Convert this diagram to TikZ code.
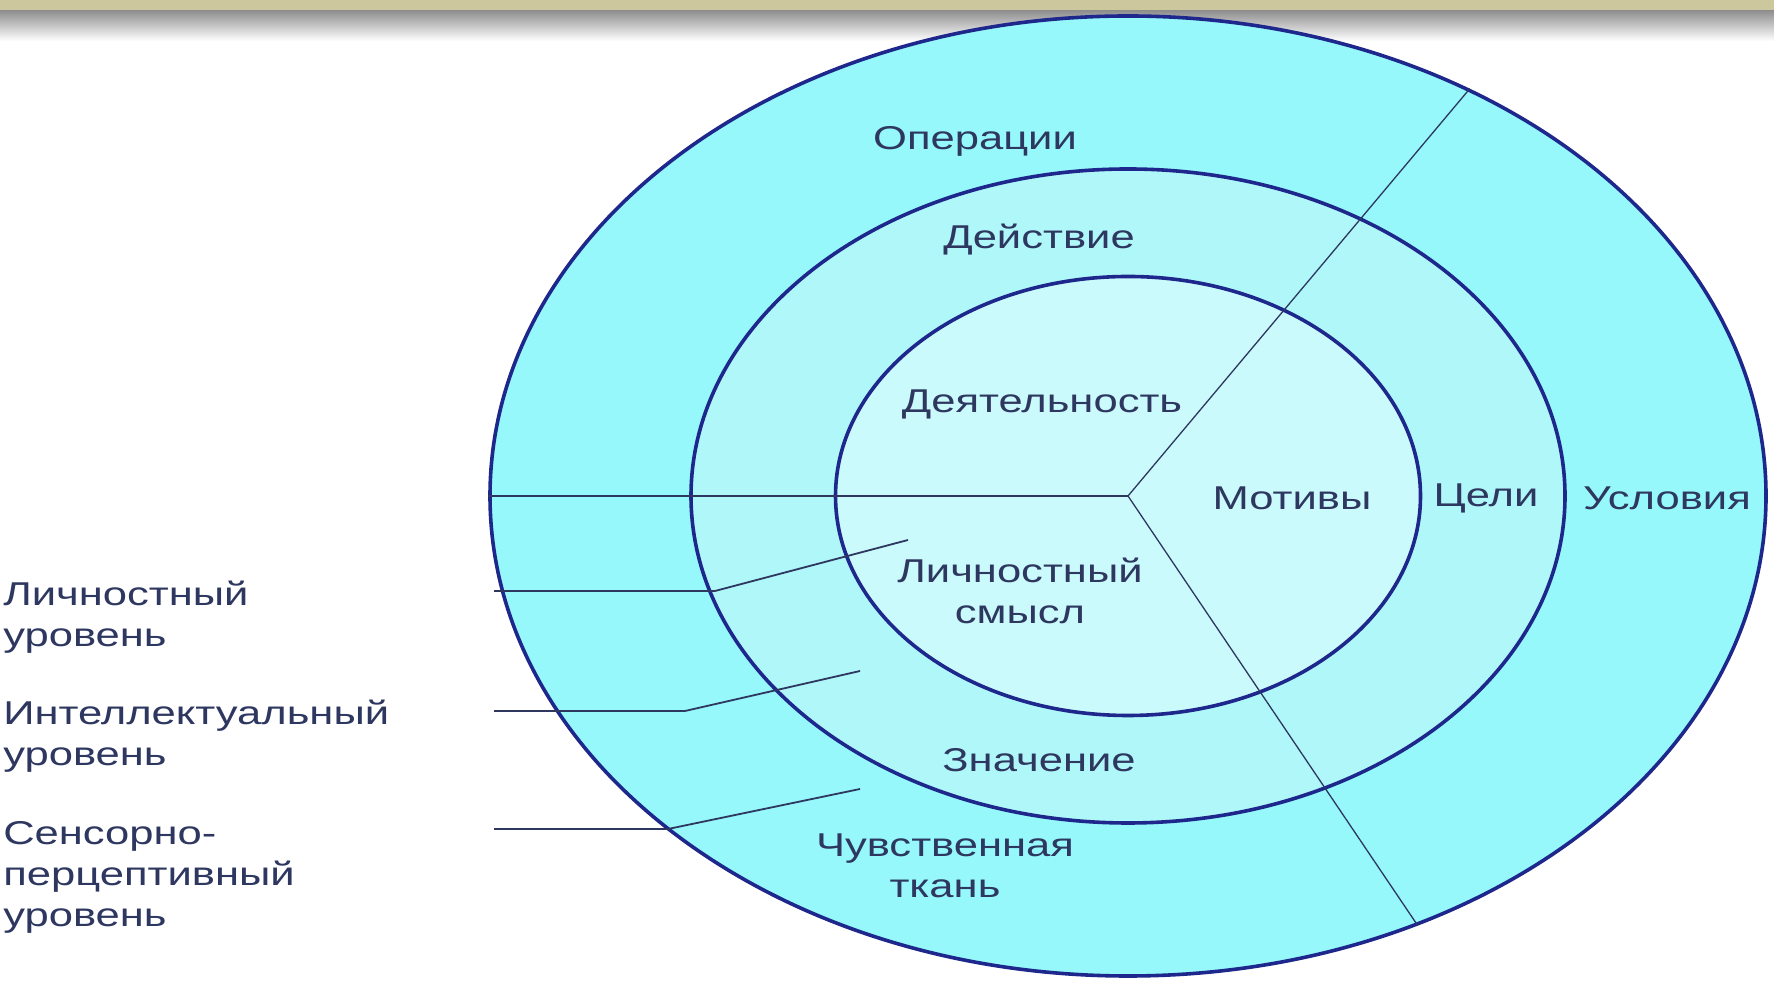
\documentclass[tikz,border=0pt]{standalone}
\usepackage{fontspec}
\setmainfont{Liberation Sans}
\usetikzlibrary{shapes.geometric}
\definecolor{barcol}{RGB}{205,199,158}
\definecolor{outercol}{RGB}{150,248,250}
\definecolor{midcol}{RGB}{176,247,249}
\definecolor{innercol}{RGB}{202,250,251}
\definecolor{rimcol}{RGB}{30,40,140}
\definecolor{txtcol}{RGB}{45,55,95}
\tikzset{
  ring/.style={ellipse, draw=rimcol, line width=3.6pt, inner sep=0pt},
  spoke/.style={draw=txtcol, line width=1.3pt},
  leader/.style={draw=txtcol, line width=1.8pt},
  lbl/.style={font=\fontsize{33}{41}\selectfont, text=txtcol, inner sep=0pt, xscale=1.32},
}
\begin{document}
\begin{tikzpicture}[x=1pt, y=1pt]
		\useasboundingbox (0,0) rectangle (1774,981);
		\fill[white] (0,0) rectangle (1774,981);

		% --- Top bar ---
		\shade[top color=black!45, bottom color=white] (0,940) rectangle (1774,971);
		\fill[barcol] (0,971) rectangle (1774,981);

		% --- Rings ---
		\coordinate (c) at (1128,485);
		\node[ring, fill=outercol, minimum width=1276pt, minimum height=960pt] (outer) at (c) {};
		\node[ring, fill=midcol, minimum width=874pt, minimum height=654pt] (mid) at (c) {};
		\node[ring, fill=innercol, minimum width=585pt, minimum height=439pt] (inner) at (c) {};

		% --- Spokes ---
		\draw[spoke] (c) -- (outer.180);
		\draw[spoke] (c) -- (outer.50);
		\draw[spoke] (c) -- (outer.-56);

		% --- Ring labels ---
		\node[lbl] (oper) at (975,840) {Операции};
		\node[lbl] (deistv) at (1039,741) {Действие};
		\node[lbl] (deyat) at (1042,577) {Деятельность};
		\node[lbl] (motiv) at (1292,483) {Мотивы};
		\node[lbl] (celi) at (1486,483) {Цели};
		\node[lbl] (uslov) at (1667,483) {Условия};
		\node[lbl, align=center] (smysl) at (1020,390) {Личностный\\смысл};
		\node[lbl] (znach) at (1039,221) {Значение};
		\node[lbl, align=center] (tkan) at (945,115) {Чувственная\\ткань};

		% --- Level labels ---
		\node[lbl, anchor=west, align=left] (lvlA) at (3,364) {Личностный\\уровень};
		\node[lbl, anchor=west, align=left] (lvlB) at (3,245) {Интеллектуальный\\уровень};
		\node[lbl, anchor=west, align=left] (lvlC) at (3,104) {Сенсорно-\\перцептивный\\уровень};

		% --- Leaders ---
		\coordinate (a1) at (494,390); \coordinate (a2) at (715,390); \coordinate (a3) at (908,441);
		\coordinate (b1) at (494,270); \coordinate (b2) at (685,270); \coordinate (b3) at (860,310);
		\coordinate (d1) at (494,152); \coordinate (d2) at (668,152); \coordinate (d3) at (860,192);
		\draw[leader] (a1) -- (a2) -- (a3);
		\draw[leader] (b1) -- (b2) -- (b3);
		\draw[leader] (d1) -- (d2) -- (d3);
	\end{tikzpicture}
\end{document}
